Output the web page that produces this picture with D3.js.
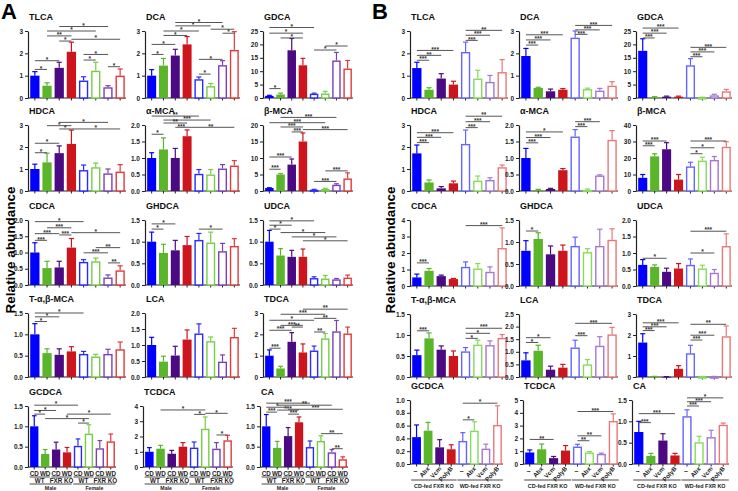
<!DOCTYPE html>
<html><head><meta charset="utf-8">
<script src="https://cdn.jsdelivr.net/npm/d3@7"></script>
<style>
body{margin:0;background:#fff}
svg{display:block}
text{font-family:"Liberation Sans",Arial,sans-serif;font-weight:bold}
</style>
</head><body>
<svg id="c" width="738" height="491"></svg>
<script>
// ---------------- DATA ----------------
const titles = ["TLCA","DCA","GDCA","HDCA","α-MCA","β-MCA","CDCA","GHDCA","UDCA","T-α,β-MCA","LCA","TDCA","GCDCA","TCDCA","CA"];

// Panel A: Male/Female, WT/FXR KO, CD/WD
const dietA = ["CD","WD","CD","WD","CD","WD","CD","WD"];
const genotypeA = ["WT","FXR KO","WT","FXR KO"];
const sexA = ["Male","Female"];

const meansA = [
  [1.0,0.55,1.35,2.07,0.78,1.22,0.48,1.0],
  [1.0,1.45,1.9,2.4,0.84,0.53,1.47,2.15],
  [0.8,1.3,17.8,12.2,1.6,1.7,14,11],
  [1.0,1.3,1.72,2.14,0.95,1.08,0.8,0.88],
  [1.0,1.26,1.0,1.66,0.52,0.5,0.68,0.77],
  [0.9,5.0,8.0,15.0,0.4,0.6,1.9,3.8],
  [1.0,0.52,0.54,1.15,0.71,0.73,0.23,0.45],
  [1.0,0.74,0.8,0.92,1.04,0.98,0.78,0.9],
  [1.0,0.68,0.65,0.65,0.16,0.15,0.13,0.17],
  [1.0,0.56,0.52,0.6,0.54,0.48,0.54,0.65],
  [1.0,0.48,0.67,1.17,1.36,1.12,0.48,1.25],
  [1.0,0.4,1.65,1.15,1.24,1.81,2.14,2.04],
  [1.0,0.32,0.43,0.36,0.52,0.82,0.46,0.63],
  [1.0,1.2,0.87,1.33,1.27,2.51,1.2,1.75],
  [1.0,0.47,0.76,1.1,0.49,0.64,0.36,0.19]
];
const semA = [
  [0.18,0.13,0.25,0.43,0.17,0.38,0.07,0.3],
  [0.27,0.32,0.28,0.35,0.1,0.12,0.2,0.82],
  [0.2,0.5,4.4,2.6,0.2,0.8,3,3],
  [0.22,0.42,0.33,0.63,0.23,0.19,0.2,0.32],
  [0.16,0.35,0.29,0.19,0.13,0.15,0.12,0.15],
  [0.1,0.3,1.7,2.6,0.1,0.2,0.3,1.7],
  [0.3,0.21,0.19,0.28,0.07,0.1,0.08,0.14],
  [0.22,0.2,0.23,0.2,0.15,0.24,0.18,0.17],
  [0.26,0.16,0.15,0.18,0.03,0.07,0.02,0.06],
  [0.25,0.1,0.14,0.11,0.06,0.05,0.11,0.17],
  [0.24,0.17,0.29,0.3,0.3,0.13,0.21,0.27],
  [0.27,0.1,0.43,0.4,0.21,0.23,0.51,0.3],
  [0.26,0.11,0.18,0.12,0.17,0.22,0.19,0.18],
  [0.27,0.22,0.22,0.27,0.37,0.77,0.4,0.33],
  [0.29,0.16,0.21,0.13,0.15,0.13,0.07,0.06]
];
const yMaxA  = [3,3,25, 3,2,20, 2,1.5,1.5, 1.5,2,3, 1.5,4,1.5];
const yStepA = [1,1,5, 1,0.5,5, 0.5,0.5,0.5, 0.5,0.5,1, 0.5,1,0.5];
const sigA = [
  [[0,1,1.28,"*"],[0,2,1.67,"*"],[2,3,2.55,"*"],[3,7,2.63,"*"],[1,3,2.78,"**"],[1,5,3.0,"*"],[2,6,3.2,"*"],[4,6,1.95,"*"],[4,5,1.7,"*"],[6,7,1.4,"*"]],
  [[0,1,1.95,"*"],[0,2,2.4,"*"],[1,3,2.8,"*"],[1,4,3.0,"*"],[2,5,3.23,"*"],[2,6,3.38,"*"],[4,5,1.07,"*"],[4,6,1.73,"*"],[6,7,2.9,"*"],[5,7,3.08,"*"]],
  [[0,1,3.5,"*"],[1,3,22.4,"*"],[0,3,24.2,"*"],[0,4,26.3,"*"],[4,6,17.9,"*"],[5,7,19.4,"*"]],
  [[0,1,1.74,"*"],[0,2,2.17,"*"],[1,3,2.97,"*"],[2,6,3.12,"*"],[2,3,2.82,"*"],[3,7,2.82,"*"]],
  [[0,1,1.72,"*"],[0,4,2.27,"**"],[1,5,2.15,"***"],[1,3,2.06,"**"],[2,3,1.93,"***"],[3,7,1.93,"**"]],
  [[0,1,6.6,"***"],[0,2,10.3,"***"],[2,3,17.9,"***"],[1,3,19.4,"***"],[0,5,20.7,"***"],[1,6,22.3,"***"],[3,7,18.6,"***"],[4,6,2.9,"***"],[5,7,6.1,"***"]],
  [[0,1,1.375,"***"],[0,2,1.58,"***"],[1,3,1.76,"***"],[0,4,1.95,"*"],[2,3,1.54,"***"],[3,7,1.61,"*"],[5,7,1.15,"**"],[4,6,0.99,"***"],[6,7,0.68,"**"]],
  [[0,1,1.29,"*"],[0,2,1.41,"*"],[4,6,1.29,"*"]],
  [[0,4,1.48,"*"],[0,2,1.38,"*"],[0,1,1.29,"*"],[1,5,1.21,"*"],[2,6,1.11,"*"],[3,7,1.02,"*"]],
  [[0,1,1.3,"*"],[0,2,1.41,"*"],[0,4,1.5,"*"]],
  [],
  [[0,1,1.35,"***"],[0,2,2.19,"***"],[2,3,2.34,"**"],[1,3,2.42,"***"],[0,4,2.66,"*"],[4,6,2.75,"**"],[1,5,2.94,"***"],[3,7,3.18,"**"],[4,5,2.11,"**"]],
  [[0,4,1.52,"*"],[0,2,1.39,"*"],[0,1,1.3,"*"],[3,7,1.3,"*"],[1,5,1.19,"*"],[4,5,1.08,"*"]],
  [[1,5,3.74,"*"],[4,5,3.45,"*"],[5,7,3.52,"*"],[6,7,2.1,"*"]],
  [[0,1,1.35,"***"],[2,3,1.3,"***"],[1,3,1.4,"***"],[0,2,1.47,"*"],[0,4,1.57,"***"],[2,7,1.42,"***"],[1,6,1.52,"**"],[5,7,0.82,"**"],[6,7,0.45,"**"]]
];

// Panel B: CD-fed / WD-fed FXR KO, treatments
const treatB = ["–","Abx","Vcm","PolyB","–","Abx","Vcm","PolyB"];
const dietB = ["CD-fed FXR KO","WD-fed FXR KO"];

const meansB = [
  [1.34,0.37,0.87,0.6,2.06,0.87,0.72,1.16],
  [1.88,0.45,0.3,0.37,2.7,0.4,0.33,0.55],
  [17.6,0.3,0.5,0.5,12.2,0.2,1.0,2.5],
  [1.71,0.39,0.12,0.35,2.14,0.47,0.5,1.08],
  [1.0,0.03,0.06,0.63,1.65,0.03,0.47,1.55],
  [8.0,21,25.3,6.9,14.9,18.4,18.8,26.8],
  [0.52,0.92,0.6,0.42,1.16,1.06,0.86,2.3],
  [0.8,1.07,0.72,0.8,0.91,0.77,0.91,1.05],
  [0.64,0.58,0.43,0.53,0.64,0.53,0.4,1.21],
  [0.52,0.92,0.65,0.5,0.61,0.77,0.76,0.93],
  [0.66,1.04,0.29,0.37,1.17,0.5,1.24,1.69],
  [1.64,0.02,0.01,0.39,1.13,0.02,0.02,1.94],
  [0.42,0.52,0.26,0.23,0.36,0.52,0.24,0.61],
  [0.9,1.15,0.46,1.05,1.36,0.9,0.79,3.36],
  [0.75,0.19,0.55,0.2,1.12,0.51,0.63,0.92]
];
const semB = [
  [0.26,0.09,0.22,0.15,0.44,0.37,0.29,0.56],
  [0.34,0.03,0.1,0.05,0.3,0.04,0.1,0.18],
  [4.5,0.2,0.2,0.2,2.5,0.1,0.4,0.7],
  [0.38,0.11,0.08,0.1,0.63,0.21,0.1,0.1],
  [0.29,0.02,0.02,0.05,0.21,0.03,0.02,0.28],
  [2,1.6,4,3.1,2.5,2.1,2.1,3.1],
  [0.2,0.14,0.06,0.04,0.3,0.3,0.3,1.22],
  [0.23,0.14,0.19,0.13,0.2,0.08,0.38,0.25],
  [0.16,0.06,0.11,0.15,0.18,0.1,0.1,0.37],
  [0.12,0.13,0.09,0.12,0.09,0.11,0.1,0.08],
  [0.3,0.22,0.14,0.13,0.29,0.19,0.36,0.28],
  [0.42,0.01,0.01,0.15,0.38,0.01,0.01,0.49],
  [0.19,0.13,0.12,0.07,0.13,0.14,0.07,0.3],
  [0.2,0.41,0.13,0.39,0.18,0.07,0.06,0.56],
  [0.25,0.06,0.16,0.05,0.15,0.14,0.16,0.04]
];
const yMaxB  = [3,3,25, 3,2,40, 4,1.5,2, 1.5,2.5,3, 1,5,1.5];
const yStepB = [1,1,5, 1,0.5,10, 1,0.5,0.5, 0.5,0.5,1, 0.2,1,0.5];
const sigB = [
  [[0,1,1.69,"***"],[0,2,1.91,"**"],[0,3,2.13,"***"],[4,5,2.58,"***"],[4,6,2.81,"***"],[4,7,3.03,"**"]],
  [[0,1,2.37,"***"],[0,2,2.6,"***"],[0,3,2.83,"***"],[4,5,2.85,"***"],[4,6,3.05,"***"],[4,7,3.25,"***"]],
  [[0,1,22.4,"***"],[0,2,24.2,"***"],[0,3,26.1,"***"],[4,5,15.4,"***"],[4,6,17.2,"***"],[4,7,18.9,"***"]],
  [[0,1,2.2,"***"],[0,2,2.44,"***"],[0,3,2.65,"***"],[4,5,2.88,"***"],[4,6,3.15,"***"],[4,7,3.4,"**"]],
  [[0,1,1.46,"***"],[0,2,1.62,"***"],[0,3,1.79,"*"],[4,5,1.95,"***"],[4,6,2.1,"***"]],
  [[0,1,27.4,"***"],[0,2,30.3,"***"],[4,5,22.6,"*"],[4,6,26.2,"*"],[4,7,30.3,"***"]],
  [[0,1,1.4,"***"],[4,7,3.66,"***"]],
  [[0,1,1.25,"*"]],
  [[0,2,0.84,"*"],[4,6,1.0,"*"],[4,7,1.66,"***"]],
  [[0,1,1.1,"***"],[4,5,0.92,"*"],[4,6,1.04,"*"],[4,7,1.16,"***"]],
  [[0,1,1.37,"*"],[0,2,1.56,"*"],[4,5,1.64,"***"],[4,7,2.13,"***"]],
  [[0,1,2.21,"***"],[0,2,2.39,"***"],[0,3,2.58,"***"],[4,5,1.76,"***"],[4,6,1.99,"***"],[4,7,2.51,"**"]],
  [[4,5,0.69,"*"],[4,7,0.95,"*"]],
  [[0,2,1.92,"**"],[4,5,1.82,"**"],[4,6,2.2,"**"],[4,7,4.1,"***"]],
  [[0,1,0.97,"***"],[0,3,1.18,"***"],[4,5,1.36,"***"],[4,6,1.46,"***"],[4,7,1.55,"*"]]
];

// ---------------- LAYOUT / STYLE ----------------
const FILL = ["#0000fe","#5ab52b","#4b0a82","#cc151c"];
const OPEN_A = ["#2a2aff","#74cf45","#7a40bb","#e03a3a"];
const OPEN_B = ["#6464ff","#84dc5a","#a576d4","#e87878"];
const FONT = "'Liberation Sans', Arial, sans-serif";

const layA = {
  cols:[{x:28,w:98},{x:145,w:95},{x:263,w:90}],
  cols5:[{x:28,w:88},{x:143,w:90},{x:260,w:88}],
  rows:[[31,98],[125,191],[220,285],[313,377],[406,467]]
};
const layB = {
  cols:[{x:410,w:98},{x:519,w:99},{x:636,w:96}],
  cols5:[{x:410,w:93},{x:523,w:96},{x:632,w:97}],
  rows:[[31,98],[125,191],[220,286],[314,377],[400,464]]
};

const svg = d3.select("#c");
svg.append("rect").attr("width",738).attr("height",491).attr("fill","#fff");

function drawPanel(o){
  const g = svg.append("g");
  const y = d3.scaleLinear().domain([0,o.yMax]).range([o.bot,o.top]);
  const x = d3.scaleBand().domain(d3.range(o.m.length)).range([o.x0+1,o.x0+o.w]).paddingInner(0.24).paddingOuter(0.1);
  const bw = x.bandwidth();
  const cx = i => x(i)+bw/2;
  const dec = o.yStep<1 ? 1 : 0;
  const ticks = d3.range(0, o.yMax + o.yStep/2, o.yStep);

  // title
  g.append("text").attr("x",o.x0+1).attr("y",o.top-11).attr("font-size",9).attr("fill","#111").text(o.title);

  // y axis
  const ax = g.append("g").attr("transform",`translate(${o.x0},0)`)
    .call(d3.axisLeft(y).tickValues(ticks).tickFormat(d3.format(`.${dec}f`)).tickSize(3).tickSizeOuter(0).tickPadding(2));
  ax.attr("font-family",FONT).attr("font-size",6.5).attr("font-weight","bold");
  ax.select(".domain").attr("stroke","#222").attr("stroke-width",1.2);
  ax.selectAll(".tick line").attr("stroke","#222").attr("stroke-width",1);
  ax.selectAll(".tick text").attr("fill","#222");

  // x axis
  g.append("line").attr("x1",o.x0).attr("x2",o.x0+o.w).attr("y1",o.bot).attr("y2",o.bot).attr("stroke","#222").attr("stroke-width",1.2);
  g.selectAll("line.xt").data(o.m).join("line").attr("class","xt")
    .attr("x1",(d,i)=>cx(i)).attr("x2",(d,i)=>cx(i)).attr("y1",o.bot).attr("y2",o.bot+2.5)
    .attr("stroke","#222").attr("stroke-width",1);

  // error bars
  o.m.forEach((d,i)=>{
    const col = i<4 ? FILL[i] : o.open[i-4];
    const yt = y(d+o.e[i]);
    g.append("line").attr("x1",cx(i)).attr("x2",cx(i)).attr("y1",y(d)).attr("y2",yt).attr("stroke",col).attr("stroke-width",1.2);
    g.append("line").attr("x1",cx(i)-bw*0.28).attr("x2",cx(i)+bw*0.28).attr("y1",yt).attr("y2",yt).attr("stroke",col).attr("stroke-width",1.2);
  });

  // bars
  g.selectAll("rect.bar").data(o.m).join("rect").attr("class","bar")
    .attr("x",(d,i)=> i<4 ? x(i) : x(i)+0.7)
    .attr("y",(d,i)=> i<4 ? y(d) : y(d)+0.7)
    .attr("width",(d,i)=> i<4 ? bw : bw-1.4)
    .attr("height",(d,i)=> Math.max(0.8, o.bot - y(d) - (i<4?0:0.7)))
    .attr("fill",(d,i)=> i<4 ? FILL[i] : "#fff")
    .attr("stroke",(d,i)=> i<4 ? "none" : o.open[i-4])
    .attr("stroke-width",1.4);

  // significance brackets
  o.sig.forEach(([i,j,v,lab])=>{
    const yy = y(v);
    g.append("line").attr("x1",cx(i)).attr("x2",cx(j)).attr("y1",yy).attr("y2",yy).attr("stroke","#555").attr("stroke-width",1);
    g.append("text").attr("x",(cx(i)+cx(j))/2).attr("y",yy+1.2).attr("text-anchor","middle").attr("font-size",6.5).attr("fill","#333").text(lab);
  });

  return {x, bw, cx};
}

function drawSet(lay, means, sems, yMax, yStep, sigs, open, isA){
  for(let k=0;k<15;k++){
    const r = Math.floor(k/3), c = k%3;
    const col = r===4 ? lay.cols5[c] : lay.cols[c];
    const [top,bot] = lay.rows[r];
    const res = drawPanel({title:titles[k], m:means[k], e:sems[k], yMax:yMax[k], yStep:yStep[k], sig:sigs[k],
      x0:col.x, w:col.w, top, bot, open});
    if(r===4){
      const {x,bw,cx} = res;
      if(isA){
        dietA.forEach((t,i)=> svg.append("text").attr("x",cx(i)).attr("y",bot+8.5).attr("text-anchor","middle").attr("font-size",6.3).attr("fill","#222").text(t));
        genotypeA.forEach((t,p)=>{
          svg.append("line").attr("x1",x(2*p)-0.5).attr("x2",x(2*p+1)+bw+0.5).attr("y1",bot+10).attr("y2",bot+10).attr("stroke","#333").attr("stroke-width",0.9);
          svg.append("text").attr("x",(cx(2*p)+cx(2*p+1))/2).attr("y",bot+15.5).attr("text-anchor","middle").attr("font-size",6.3).attr("fill","#222").text(t);
        });
        sexA.forEach((t,s)=>{
          svg.append("line").attr("x1",x(4*s)-0.5).attr("x2",x(4*s+3)+bw+0.5).attr("y1",bot+17).attr("y2",bot+17).attr("stroke","#333").attr("stroke-width",0.9);
          svg.append("text").attr("x",(cx(4*s)+cx(4*s+3))/2).attr("y",bot+22.5).attr("text-anchor","middle").attr("font-size",5.2).attr("fill","#222").text(t);
        });
      } else {
        treatB.forEach((t,i)=>{
          if(t==="–"){
            svg.append("text").attr("x",cx(i)-1).attr("y",bot+9).attr("text-anchor","middle").attr("font-size",7).attr("fill","#222").text(t);
          } else {
            svg.append("text").attr("transform",`translate(${cx(i)+2},${bot+5}) rotate(-48)`).attr("text-anchor","end").attr("font-size",6.2).attr("fill","#222").text(t);
          }
        });
        dietB.forEach((t,s)=>{
          svg.append("line").attr("x1",x(4*s)-1).attr("x2",x(4*s+3)+bw+1).attr("y1",bot+16).attr("y2",bot+16).attr("stroke","#333").attr("stroke-width",0.9);
          svg.append("text").attr("x",(cx(4*s)+cx(4*s+3))/2).attr("y",bot+23.5).attr("text-anchor","middle").attr("font-size",5.4).attr("fill","#222").text(t);
        });
      }
    }
  }
}

drawSet(layA, meansA, semA, yMaxA, yStepA, sigA, OPEN_A, true);
drawSet(layB, meansB, semB, yMaxB, yStepB, sigB, OPEN_B, false);

// panel letters
svg.append("text").attr("x",1).attr("y",19).attr("font-size",22).attr("fill","#000").text("A");
svg.append("text").attr("x",372).attr("y",19).attr("font-size",22).attr("fill","#000").text("B");

// y-axis titles
svg.append("text").attr("transform","translate(15,250) rotate(-90)").attr("text-anchor","middle").attr("font-size",13.5).attr("fill","#000").text("Relative abundance");
svg.append("text").attr("transform","translate(395,250) rotate(-90)").attr("text-anchor","middle").attr("font-size",13.5).attr("fill","#000").text("Relative abundance");
</script>
</body></html>
